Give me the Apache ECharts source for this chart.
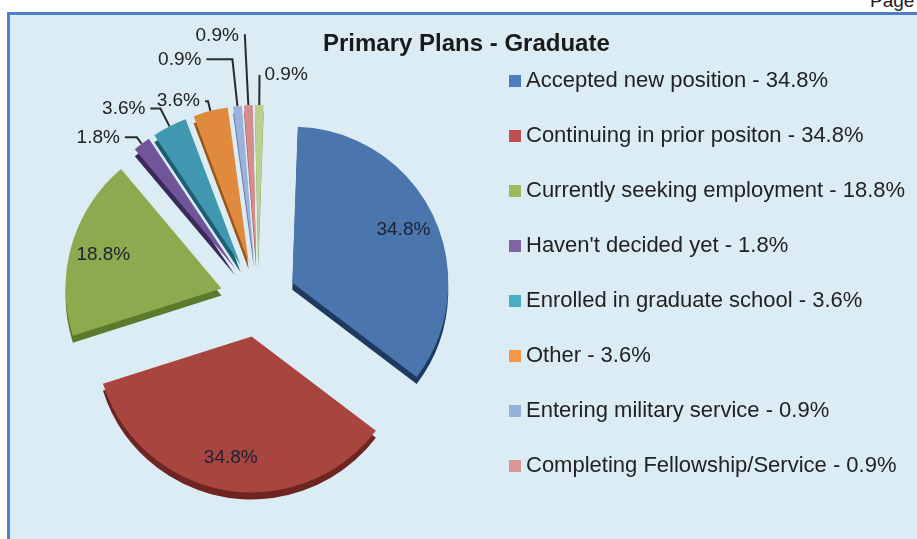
<!DOCTYPE html>
<html><head><meta charset="utf-8">
<script src="https://cdn.jsdelivr.net/npm/echarts@6/dist/echarts.min.js"></script>
<style>
html,body{margin:0;padding:0;background:#fff;width:917px;height:539px;overflow:hidden;}
#page{position:absolute;left:870px;top:-10px;font:19px 'Liberation Sans',Arial,sans-serif;color:#222;}
#frame{position:absolute;left:7px;top:12px;width:930px;height:540px;background:#dbecf4;border-left:3px solid #4f7fc9;border-top:3px solid #4f7fc9;}
#chart{position:absolute;left:0;top:0;width:917px;height:539px;}
</style></head><body>
<div id="page">Page</div>
<div id="frame"></div>
<div id="chart"></div>
<script>
// ---- data ----
const categories = [
  'Accepted new position',
  'Continuing in prior positon',
  'Currently seeking employment',
  "Haven't decided yet",
  'Enrolled in graduate school',
  'Other',
  'Entering military service',
  'Completing Fellowship/Service',
  'Not seeking employment'
];
const values = [34.8, 34.8, 18.8, 1.8, 3.6, 3.6, 0.9, 0.9, 0.9];
const legendNames = categories.slice(0, 8);
const titleText = 'Primary Plans - Graduate';

// ---- styles ----
const topColors  = ['#4a75ad', '#a9453f', '#8dab4e', '#70559a', '#3f97b0', '#df8a3c', '#9db2da', '#d68e8d', '#b9d08f'];
const sideColors = ['#1f3a60', '#6e2522', '#5c7a2c', '#3a2a5a', '#1d5d70', '#9a5518', '#64799f', '#9a5555', '#7f9a5c'];
const legendColors = ['#4f7cba', '#c0504d', '#9bbb59', '#8064a2', '#4bacc6', '#f79646', '#95b3d7', '#d99694'];
const labelLineLen = [[0,0],[0,0],[0,0],[8,12],[20,10],[10,3],[47,26],[70,1],[30,0]];
const FONT = "'Liberation Sans', Arial, sans-serif";

const chart = echarts.init(document.getElementById('chart'), null, {renderer: 'canvas'});
const center = [258, 299];
const common = {
  type: 'pie', startAngle: 88, selectedMode: 'multiple', selectedOffset: 38,
  avoidLabelOverlap: false, animation: false, emphasis: {disabled: true},
  labelLayout: {hideOverlap: false}
};

const topSeries = Object.assign({}, common, {
  z: 2, center: center, radius: 156,
  label: {position: 'outside', formatter: p => p.value + '%', fontSize: 19, color: '#222', fontFamily: FONT},
  labelLine: {lineStyle: {color: '#2a2a2a', width: 2}},
  data: categories.map((n, i) => ({
    name: n, value: values[i], selected: true,
    itemStyle: {color: topColors[i]},
    select: {itemStyle: {color: topColors[i]}},
    label: {show: i >= 3},
    labelLine: {show: i >= 3, length: labelLineLen[i][0], length2: labelLineLen[i][1]}
  }))
});
const sideSeries = Object.assign({}, common, {
  z: 1, silent: true, center: [center[0], center[1] + 7], radius: 156,
  label: {show: false}, labelLine: {show: false},
  data: categories.map((n, i) => ({
    name: n, value: values[i], selected: true,
    itemStyle: {color: sideColors[i]},
    select: {itemStyle: {color: sideColors[i]}}
  }))
});
const innerLabelSeries = Object.assign({}, common, {
  z: 3, silent: true, center: center, radius: 240,
  itemStyle: {color: 'rgba(0,0,0,0)'},
  label: {position: 'inside', formatter: p => p.value + '%', fontSize: 19, color: '#1c2233', fontFamily: FONT},
  labelLine: {show: false},
  data: categories.map((n, i) => ({
    name: n, value: values[i], selected: true,
    select: {itemStyle: {color: 'rgba(0,0,0,0)'}},
    label: {show: i < 3}
  }))
});

chart.setOption({
  backgroundColor: 'transparent',
  title: {text: titleText, left: 318, top: 27,
    textStyle: {fontFamily: FONT, fontSize: 24, fontWeight: 'bold', color: '#1a1a1a'}},
  legend: {
    orient: 'vertical', left: 504, top: 65, icon: 'rect', itemWidth: 12, itemHeight: 12,
    itemGap: 33, selectedMode: false,
    data: legendNames.map((n, i) => ({name: n, itemStyle: {color: legendColors[i]}})),
    formatter: name => name + ' - ' + values[categories.indexOf(name)] + '%',
    textStyle: {fontFamily: FONT, fontSize: 22, lineHeight: 22, color: '#222'}
  },
  series: [topSeries, sideSeries, innerLabelSeries]
});
</script>
</body></html>
